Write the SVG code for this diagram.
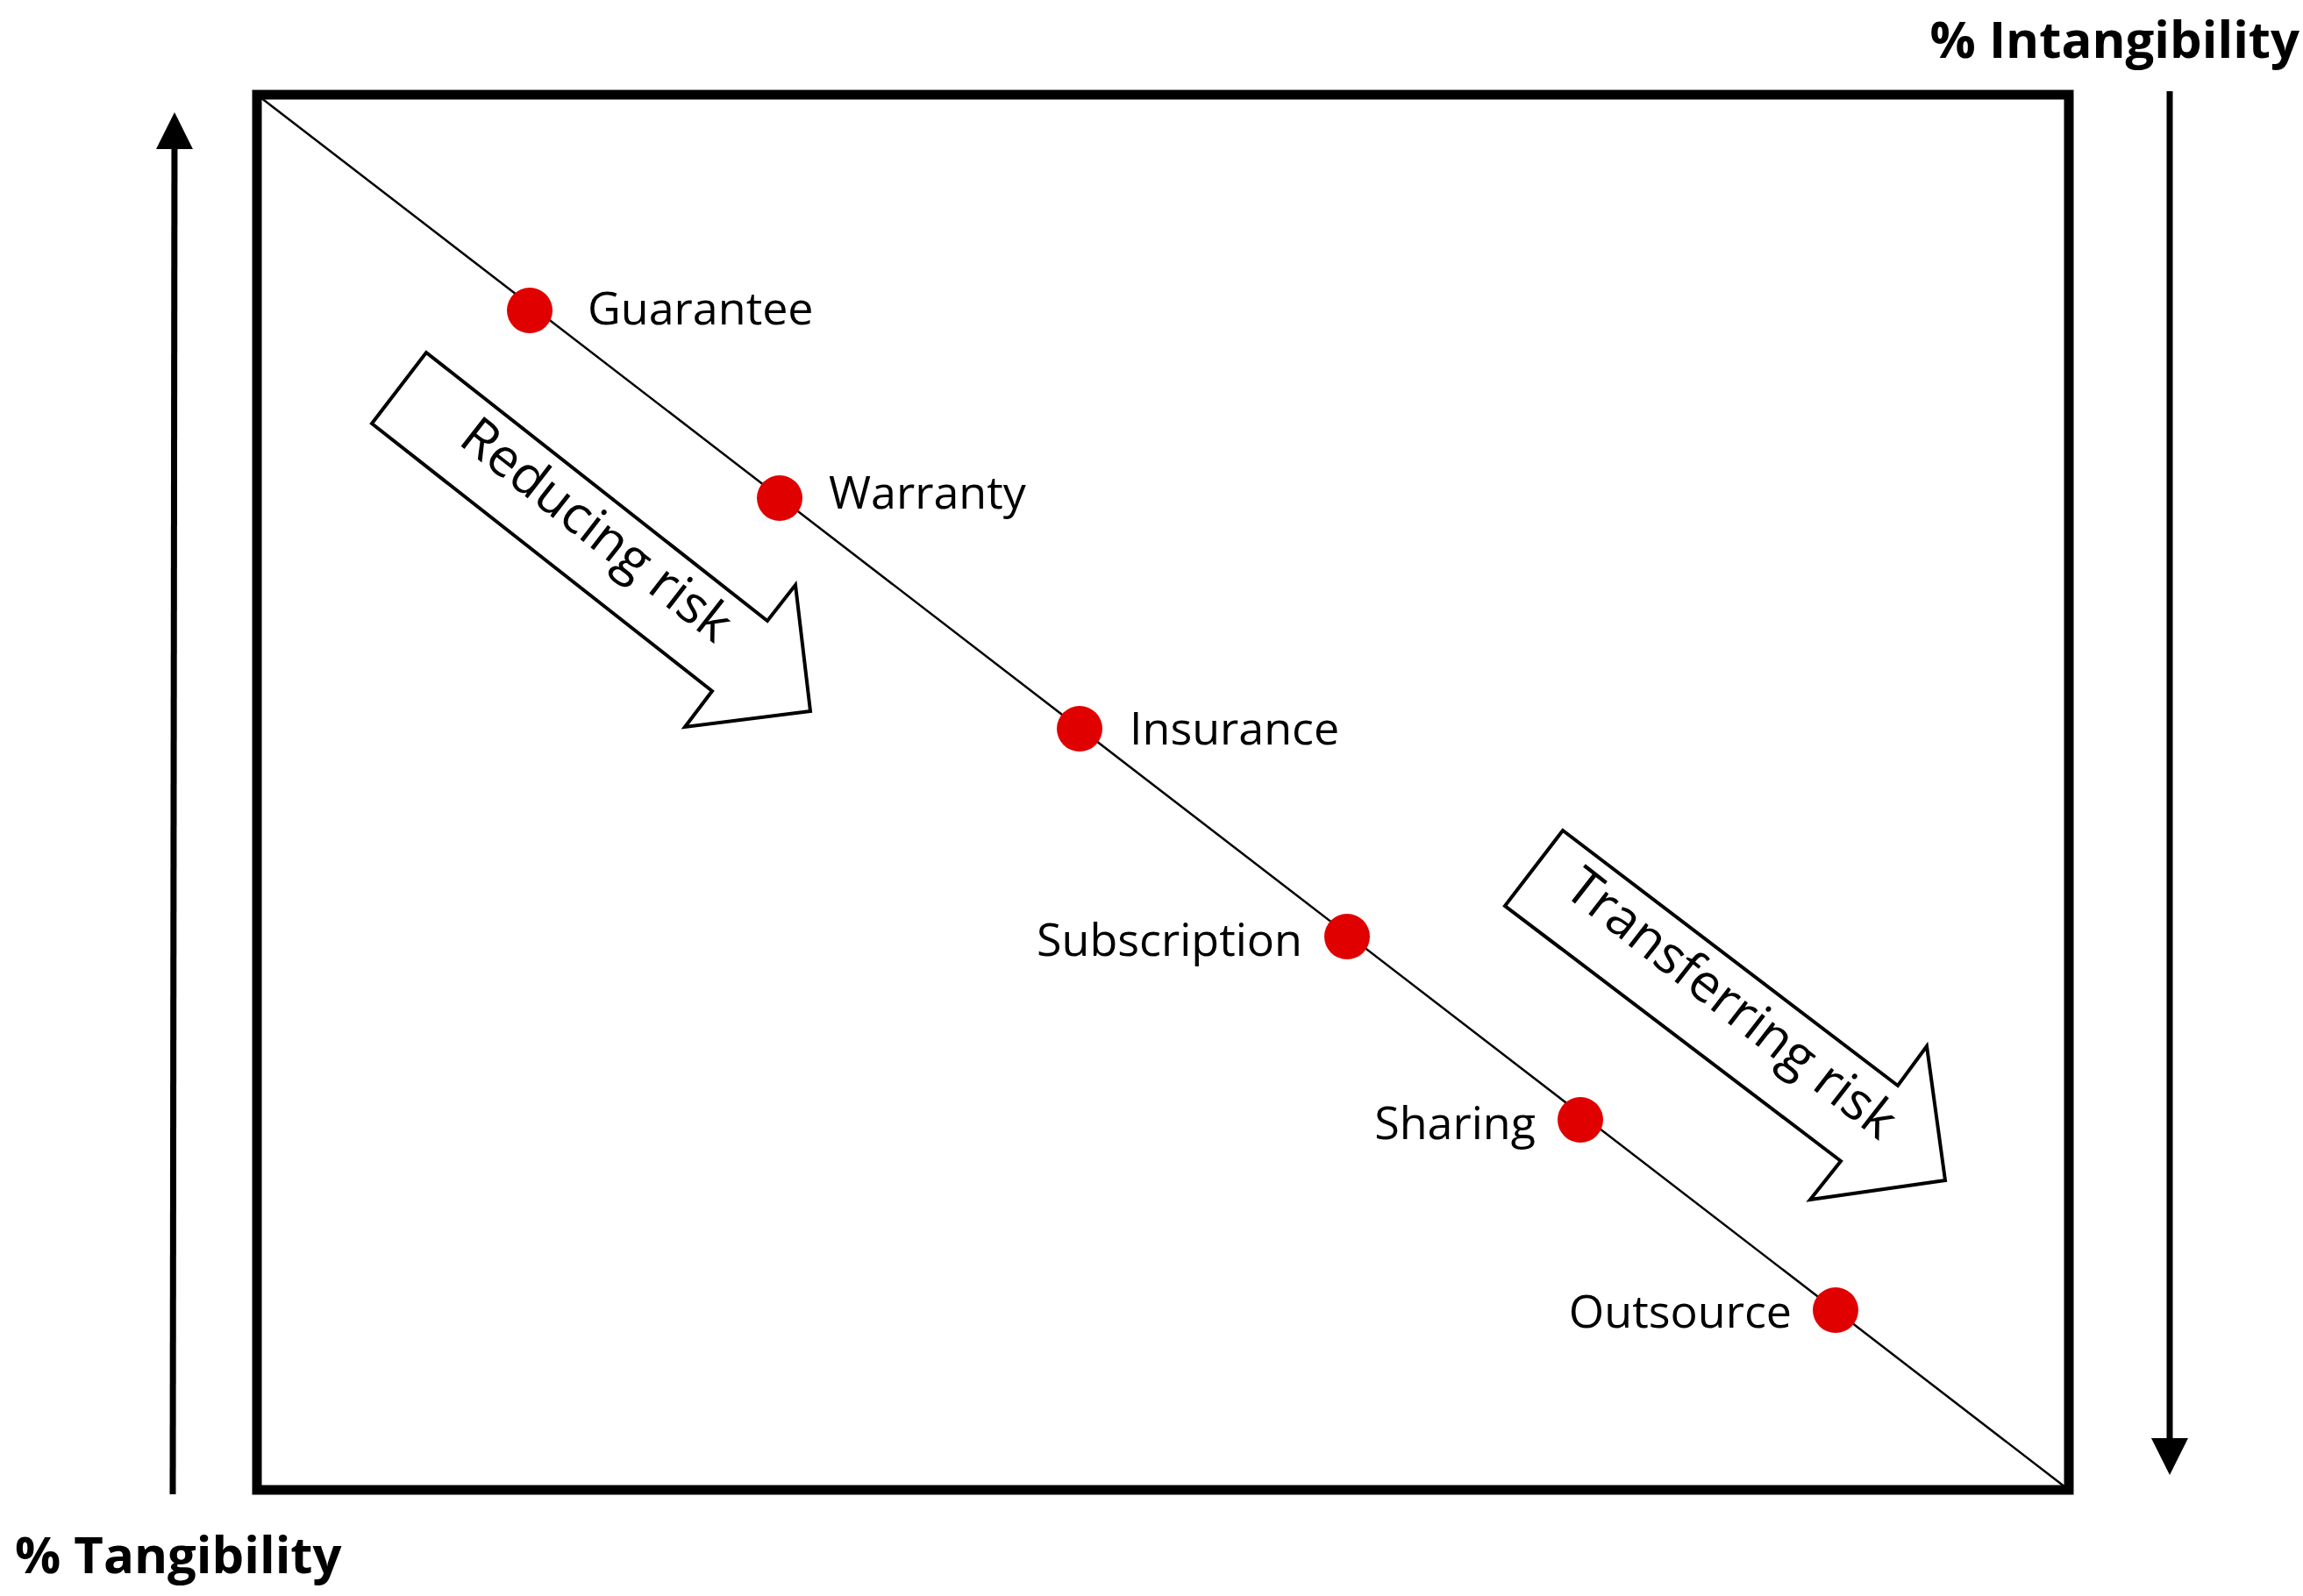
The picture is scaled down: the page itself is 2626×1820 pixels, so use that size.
<svg xmlns="http://www.w3.org/2000/svg" width="2626" height="1820" viewBox="0 0 2626 1820">
<style>
text{font-family:"Open Sans","Noto Sans","Liberation Sans",sans-serif;fill:#000}
.lbl{font-size:52px}
.ax{font-size:58px;font-weight:bold}
.dot{fill:#e00000}
.blk{fill:#fff;stroke:#000;stroke-width:4}
.big{font-size:60px}
</style>
<defs>
<marker id="ah" markerWidth="6" markerHeight="6" refX="5" refY="3" orient="auto" markerUnits="strokeWidth"><path d="M0,0 L6,3 L0,6 z" fill="#000"/></marker>
</defs>
<rect width="2626" height="1820" fill="#fff"/>
<g id="connectors">
<rect x="293" y="108" width="2066" height="1591" fill="none" stroke="#000" stroke-width="11"/>
<line x1="293" y1="108" x2="2359" y2="1699" stroke="#000" stroke-width="2.5"/>
<line x1="197" y1="1704" x2="199" y2="135" stroke="#000" stroke-width="7" marker-end="url(#ah)"/>
<line x1="2474" y1="104" x2="2474" y2="1675" stroke="#000" stroke-width="7" marker-end="url(#ah)"/>
</g>
<g id="axis-labels">
<text class="ax" x="2622" y="66" text-anchor="end">% Intangibility</text>
<text class="ax" x="17" y="1794">% Tangibility</text>
</g>
<g id="reducing">
<polygon class="blk" points="486,402 875,708 907,667 924,811 781,829 812,788 424,483"/>
<text class="big" transform="translate(668,620) rotate(38)" text-anchor="middle">Reducing risk</text>
</g>
<g id="transferring">
<polygon class="blk" points="1782,947 2164,1238 2197,1193 2218,1346 2064,1368 2099,1324 1716,1033"/>
<text class="big" transform="translate(1962,1160) rotate(38)" text-anchor="middle">Transferring risk</text>
</g>
<g id="guarantee"><circle class="dot" cx="604" cy="354" r="26"/><text class="lbl" x="670" y="370">Guarantee</text></g>
<g id="warranty"><circle class="dot" cx="889" cy="568" r="26"/><text class="lbl" x="945" y="580">Warranty</text></g>
<g id="insurance"><circle class="dot" cx="1231" cy="831" r="26"/><text class="lbl" x="1288" y="849">Insurance</text></g>
<g id="subscription"><circle class="dot" cx="1536" cy="1068" r="26"/><text class="lbl" x="1485" y="1090" text-anchor="end">Subscription</text></g>
<g id="sharing"><circle class="dot" cx="1802" cy="1277" r="26"/><text class="lbl" x="1751" y="1299" text-anchor="end">Sharing</text></g>
<g id="outsource"><circle class="dot" cx="2093" cy="1494" r="26"/><text class="lbl" x="2043" y="1514" text-anchor="end">Outsource</text></g>
</svg>
